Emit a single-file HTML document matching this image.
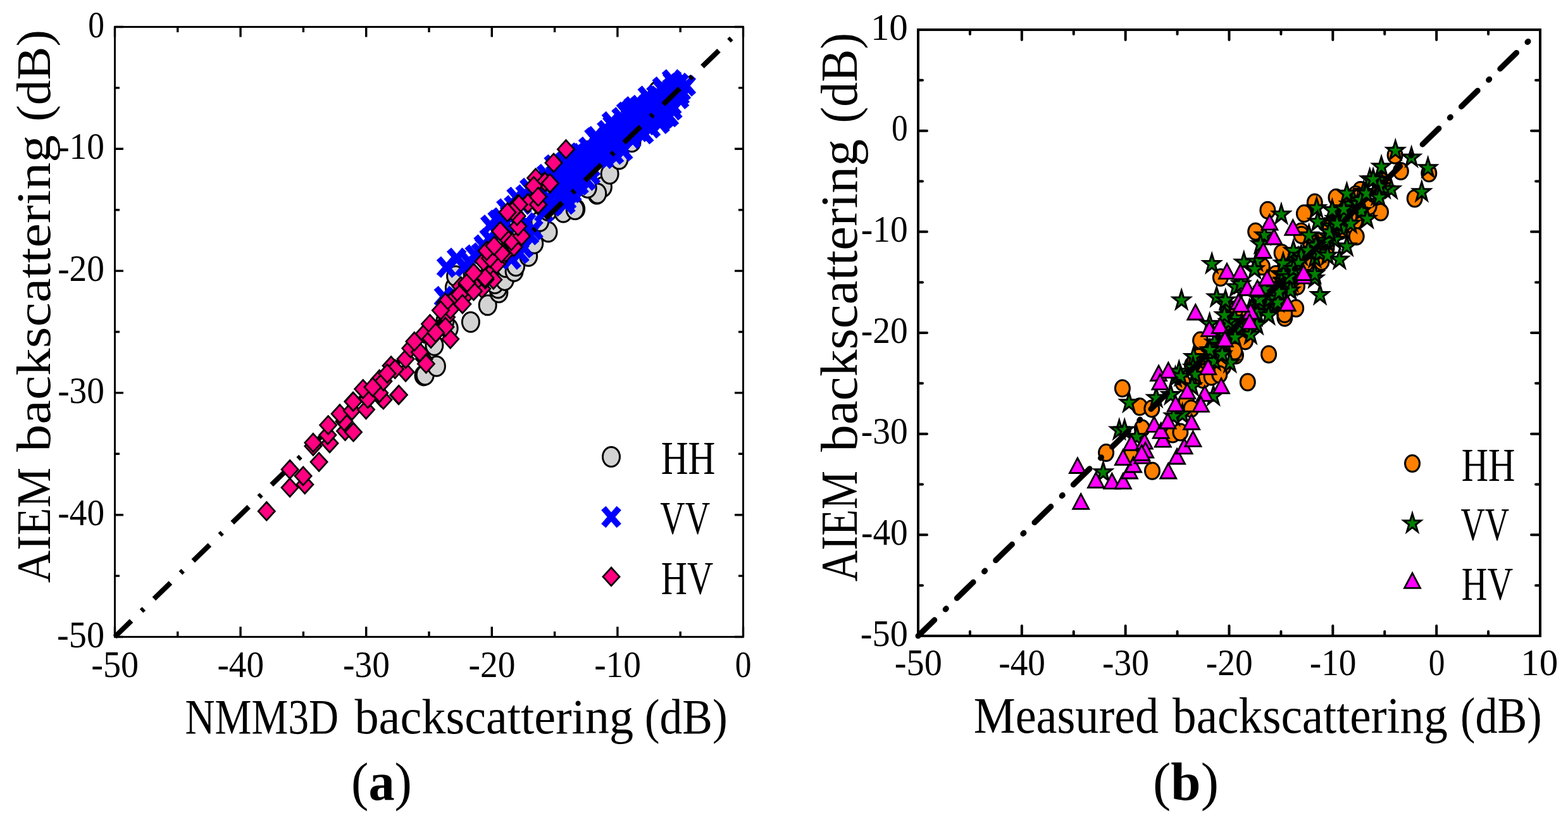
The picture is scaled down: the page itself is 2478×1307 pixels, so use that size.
<!DOCTYPE html>
<html lang="en"><head><meta charset="utf-8"><title>AIEM backscattering comparison</title>
<style>html,body{margin:0;padding:0;background:#fff}body{width:2478px;height:1307px;overflow:hidden}svg{display:block}text{font-family:"Liberation Serif", "DejaVu Serif", serif;fill:#000}</style></head><body>
<svg width="2478" height="1307" viewBox="0 0 2478 1307">
<rect width="2478" height="1307" fill="#fff"/>
<defs>
<ellipse id="c1" rx="13.5" ry="15.5" fill="#d3d3d3" stroke="#000" stroke-width="3"/>
<path id="x1" d="M-12.2 -14.0L12.2 14.0M-12.2 14.0L12.2 -14.0" fill="none" stroke="#00f" stroke-width="9.6"/>
<path id="d1" d="M0 -14.4L13.1 0L0 14.4L-13.1 0Z" fill="#ff0080" stroke="#000" stroke-width="2.7" stroke-linejoin="miter"/>
<ellipse id="c2" rx="11.5" ry="13.0" fill="#ff8000" stroke="#000" stroke-width="3"/>
<polygon id="s2" points="0.00,-15.80 3.32,-4.99 13.79,-4.88 5.38,1.90 8.52,12.78 0.00,6.16 -8.52,12.78 -5.38,1.90 -13.79,-4.88 -3.32,-4.99" fill="#008000" stroke="#000" stroke-width="3.0" stroke-linejoin="miter"/>
<path id="t2" d="M0 -11.2L12.5 12.4L-12.5 12.4Z" fill="#f0f" stroke="#000" stroke-width="2.8" stroke-linejoin="miter"/>
</defs>
<g id="panel-a">
<g><use href="#c1" x="669.5" y="593.4"/><use href="#c1" x="671.8" y="592.6"/><use href="#c1" x="689.9" y="578.8"/><use href="#c1" x="686.4" y="545.8"/><use href="#c1" x="709.7" y="519.0"/><use href="#c1" x="703.3" y="507.5"/><use href="#c1" x="743.9" y="509.0"/><use href="#c1" x="770.7" y="482.3"/><use href="#c1" x="788.4" y="462.2"/><use href="#c1" x="787.1" y="455.3"/><use href="#c1" x="801.4" y="435.4"/><use href="#c1" x="717.8" y="454.6"/><use href="#c1" x="720.1" y="436.2"/><use href="#c1" x="782.2" y="448.1"/><use href="#c1" x="797.7" y="442.9"/><use href="#c1" x="799.0" y="422.2"/><use href="#c1" x="812.6" y="428.7"/><use href="#c1" x="815.2" y="420.3"/><use href="#c1" x="835.2" y="404.8"/><use href="#c1" x="844.3" y="384.7"/><use href="#c1" x="866.5" y="366.6"/><use href="#c1" x="798.4" y="358.9"/><use href="#c1" x="853.3" y="349.8"/><use href="#c1" x="866.3" y="333.0"/><use href="#c1" x="890.2" y="335.6"/><use href="#c1" x="910.2" y="330.4"/><use href="#c1" x="943.2" y="306.5"/><use href="#c1" x="952.9" y="295.5"/><use href="#c1" x="963.6" y="274.7"/><use href="#c1" x="944.2" y="305.8"/><use href="#c1" x="978.5" y="251.5"/><use href="#c1" x="908.7" y="331.0"/><use href="#c1" x="928.7" y="296.7"/><use href="#c1" x="998.5" y="224.3"/><use href="#c1" x="964.4" y="210.2"/><use href="#c1" x="929.5" y="238.7"/><use href="#c1" x="1038.9" y="144.6"/><use href="#c1" x="1012.9" y="170.3"/></g>
<g><use href="#x1" x="742.1" y="414.5"/><use href="#x1" x="760.2" y="400.2"/><use href="#x1" x="786.1" y="348.5"/><use href="#x1" x="792.6" y="344.6"/><use href="#x1" x="812.0" y="325.3"/><use href="#x1" x="830.1" y="308.4"/><use href="#x1" x="786.1" y="364.0"/><use href="#x1" x="773.2" y="377.0"/><use href="#x1" x="778.4" y="382.1"/><use href="#x1" x="734.4" y="420.9"/><use href="#x1" x="796.5" y="356.3"/><use href="#x1" x="764.1" y="387.3"/><use href="#x1" x="805.5" y="339.5"/><use href="#x1" x="824.9" y="322.7"/><use href="#x1" x="845.6" y="309.7"/><use href="#x1" x="857.2" y="303.3"/><use href="#x1" x="831.4" y="352.4"/><use href="#x1" x="836.5" y="370.5"/><use href="#x1" x="827.5" y="391.2"/><use href="#x1" x="808.1" y="409.3"/><use href="#x1" x="866.3" y="312.3"/><use href="#x1" x="872.7" y="325.3"/><use href="#x1" x="859.8" y="335.6"/><use href="#x1" x="1062.9" y="129.7"/><use href="#x1" x="1073.3" y="132.0"/><use href="#x1" x="1048.1" y="142.7"/><use href="#x1" x="1062.1" y="139.3"/><use href="#x1" x="1076.4" y="143.7"/><use href="#x1" x="1037.0" y="151.0"/><use href="#x1" x="1045.1" y="155.7"/><use href="#x1" x="1061.2" y="150.9"/><use href="#x1" x="1074.3" y="150.2"/><use href="#x1" x="1011.6" y="166.9"/><use href="#x1" x="1024.7" y="163.2"/><use href="#x1" x="1033.3" y="162.4"/><use href="#x1" x="1046.2" y="162.2"/><use href="#x1" x="1061.7" y="166.4"/><use href="#x1" x="995.1" y="175.3"/><use href="#x1" x="1006.8" y="172.1"/><use href="#x1" x="1024.8" y="175.9"/><use href="#x1" x="1035.2" y="177.6"/><use href="#x1" x="1047.6" y="177.2"/><use href="#x1" x="1063.0" y="173.3"/><use href="#x1" x="982.0" y="186.1"/><use href="#x1" x="996.3" y="187.7"/><use href="#x1" x="1006.6" y="186.4"/><use href="#x1" x="1020.5" y="184.7"/><use href="#x1" x="1036.6" y="186.0"/><use href="#x1" x="1048.4" y="187.6"/><use href="#x1" x="967.9" y="198.3"/><use href="#x1" x="984.0" y="194.9"/><use href="#x1" x="998.3" y="199.8"/><use href="#x1" x="1007.3" y="199.7"/><use href="#x1" x="1021.4" y="196.9"/><use href="#x1" x="958.9" y="206.6"/><use href="#x1" x="967.9" y="210.5"/><use href="#x1" x="983.4" y="209.2"/><use href="#x1" x="993.5" y="205.3"/><use href="#x1" x="1010.1" y="207.6"/><use href="#x1" x="942.5" y="216.1"/><use href="#x1" x="958.4" y="219.3"/><use href="#x1" x="968.1" y="218.8"/><use href="#x1" x="985.6" y="216.6"/><use href="#x1" x="997.9" y="218.6"/><use href="#x1" x="929.6" y="232.8"/><use href="#x1" x="946.8" y="230.3"/><use href="#x1" x="955.5" y="232.8"/><use href="#x1" x="968.9" y="229.1"/><use href="#x1" x="980.0" y="229.3"/><use href="#x1" x="919.4" y="242.9"/><use href="#x1" x="928.8" y="241.1"/><use href="#x1" x="944.0" y="243.0"/><use href="#x1" x="958.8" y="243.0"/><use href="#x1" x="970.5" y="243.4"/><use href="#x1" x="893.4" y="254.9"/><use href="#x1" x="905.0" y="251.3"/><use href="#x1" x="917.9" y="253.1"/><use href="#x1" x="932.6" y="252.7"/><use href="#x1" x="944.9" y="249.5"/><use href="#x1" x="877.3" y="263.5"/><use href="#x1" x="889.9" y="263.1"/><use href="#x1" x="907.7" y="260.8"/><use href="#x1" x="919.9" y="263.1"/><use href="#x1" x="933.3" y="264.2"/><use href="#x1" x="863.6" y="276.0"/><use href="#x1" x="877.7" y="276.6"/><use href="#x1" x="890.5" y="272.6"/><use href="#x1" x="905.1" y="272.1"/><use href="#x1" x="917.2" y="276.7"/><use href="#x1" x="933.3" y="275.9"/><use href="#x1" x="866.0" y="283.3"/><use href="#x1" x="881.4" y="288.0"/><use href="#x1" x="891.7" y="282.8"/><use href="#x1" x="903.2" y="282.5"/><use href="#x1" x="917.1" y="282.5"/><use href="#x1" x="866.5" y="293.0"/><use href="#x1" x="878.3" y="298.6"/><use href="#x1" x="894.0" y="298.1"/><use href="#x1" x="907.8" y="294.5"/><use href="#x1" x="877.4" y="305.5"/><use href="#x1" x="894.8" y="308.2"/><use href="#x1" x="903.8" y="304.1"/><use href="#x1" x="889.4" y="317.4"/><use href="#x1" x="701.4" y="468.8"/><use href="#x1" x="705.6" y="422.1"/><use href="#x1" x="721.7" y="408.5"/><use href="#x1" x="750.2" y="403.4"/><use href="#x1" x="765.7" y="390.4"/><use href="#x1" x="774.7" y="356.2"/><use href="#x1" x="799.9" y="330.3"/><use href="#x1" x="816.1" y="312.2"/><use href="#x1" x="836.8" y="298.0"/><use href="#x1" x="821.0" y="400.2"/><use href="#x1" x="843.0" y="362.8"/><use href="#x1" x="893.7" y="322.2"/><use href="#x1" x="1061.6" y="126.3"/><use href="#x1" x="1046.3" y="137.8"/><use href="#x1" x="1023.3" y="152.4"/><use href="#x1" x="1001.0" y="169.2"/><use href="#x1" x="989.5" y="177.7"/><use href="#x1" x="966.4" y="193.0"/><use href="#x1" x="939.0" y="218.2"/><use href="#x1" x="915.9" y="242.1"/><use href="#x1" x="875.2" y="260.9"/><use href="#x1" x="1084.3" y="135.5"/><use href="#x1" x="1073.6" y="155.6"/><use href="#x1" x="1057.4" y="184.0"/><use href="#x1" x="1043.0" y="194.8"/><use href="#x1" x="1028.5" y="201.8"/><use href="#x1" x="1017.7" y="211.2"/><use href="#x1" x="984.8" y="238.1"/><use href="#x1" x="954.6" y="250.2"/><use href="#x1" x="926.6" y="284.7"/><use href="#x1" x="915.0" y="291.8"/><use href="#x1" x="895.6" y="315.7"/><use href="#x1" x="893.7" y="322.2"/></g>
<path d="M181.50 1006.50L1162.58 54.07" fill="none" stroke="#000" stroke-width="8.0" stroke-linecap="butt" stroke-dasharray="36.3 22.35 5.2 22.42"/>
<g><use href="#d1" x="773.3" y="427.8"/><use href="#d1" x="761.7" y="456.3"/><use href="#d1" x="751.4" y="442.1"/><use href="#d1" x="716.5" y="473.1"/><use href="#d1" x="738.4" y="464.0"/><use href="#d1" x="787.6" y="413.6"/><use href="#d1" x="799.2" y="399.4"/><use href="#d1" x="728.1" y="452.4"/><use href="#d1" x="708.7" y="483.4"/><use href="#d1" x="779.8" y="442.1"/><use href="#d1" x="812.1" y="390.3"/><use href="#d1" x="766.9" y="412.3"/><use href="#d1" x="421.3" y="807.9"/><use href="#d1" x="458.1" y="770.6"/><use href="#d1" x="481.8" y="765.7"/><use href="#d1" x="479.1" y="752.3"/><use href="#d1" x="458.1" y="741.9"/><use href="#d1" x="504.1" y="730.1"/><use href="#d1" x="494.9" y="705.1"/><use href="#d1" x="494.9" y="699.7"/><use href="#d1" x="521.0" y="700.5"/><use href="#d1" x="517.9" y="687.5"/><use href="#d1" x="545.5" y="681.3"/><use href="#d1" x="558.5" y="682.9"/><use href="#d1" x="518.7" y="671.8"/><use href="#d1" x="544.0" y="666.0"/><use href="#d1" x="537.1" y="654.0"/><use href="#d1" x="556.2" y="649.1"/><use href="#d1" x="578.5" y="647.3"/><use href="#d1" x="557.8" y="634.6"/><use href="#d1" x="582.3" y="629.2"/><use href="#d1" x="602.2" y="628.4"/><use href="#d1" x="629.8" y="624.3"/><use href="#d1" x="558.3" y="634.8"/><use href="#d1" x="581.3" y="630.2"/><use href="#d1" x="605.9" y="631.7"/><use href="#d1" x="573.7" y="614.8"/><use href="#d1" x="599.7" y="621.0"/><use href="#d1" x="630.4" y="624.0"/><use href="#d1" x="599.7" y="599.5"/><use href="#d1" x="605.9" y="602.6"/><use href="#d1" x="618.1" y="578.0"/><use href="#d1" x="641.1" y="588.0"/><use href="#d1" x="624.3" y="583.4"/><use href="#d1" x="641.1" y="567.3"/><use href="#d1" x="648.8" y="550.4"/><use href="#d1" x="670.3" y="567.3"/><use href="#d1" x="673.4" y="574.9"/><use href="#d1" x="663.4" y="556.5"/><use href="#d1" x="670.3" y="527.4"/><use href="#d1" x="681.0" y="535.1"/><use href="#d1" x="711.7" y="535.8"/><use href="#d1" x="679.5" y="512.1"/><use href="#d1" x="705.6" y="501.3"/><use href="#d1" x="704.0" y="516.7"/><use href="#d1" x="711.7" y="489.1"/><use href="#d1" x="704.0" y="478.3"/><use href="#d1" x="726.3" y="465.3"/><use href="#d1" x="730.9" y="480.6"/><use href="#d1" x="737.8" y="449.2"/><use href="#d1" x="748.5" y="459.9"/><use href="#d1" x="756.2" y="440.0"/><use href="#d1" x="766.9" y="441.5"/><use href="#d1" x="688.7" y="525.9"/><use href="#d1" x="589.0" y="611.8"/><use href="#d1" x="696.4" y="490.6"/><use href="#d1" x="654.9" y="539.7"/><use href="#d1" x="612.0" y="590.3"/><use href="#d1" x="738.3" y="446.8"/><use href="#d1" x="766.7" y="439.0"/><use href="#d1" x="748.6" y="431.3"/><use href="#d1" x="784.8" y="417.7"/><use href="#d1" x="764.1" y="413.2"/><use href="#d1" x="774.5" y="408.0"/><use href="#d1" x="769.3" y="396.4"/><use href="#d1" x="792.6" y="400.2"/><use href="#d1" x="780.9" y="388.6"/><use href="#d1" x="802.9" y="378.3"/><use href="#d1" x="808.1" y="380.9"/><use href="#d1" x="795.2" y="370.5"/><use href="#d1" x="790.6" y="365.3"/><use href="#d1" x="824.3" y="373.1"/><use href="#d1" x="818.7" y="357.6"/><use href="#d1" x="817.1" y="341.4"/><use href="#d1" x="809.4" y="333.0"/><use href="#d1" x="818.4" y="322.7"/><use href="#d1" x="850.1" y="324.0"/><use href="#d1" x="834.6" y="320.7"/><use href="#d1" x="849.5" y="311.0"/><use href="#d1" x="868.9" y="290.3"/><use href="#d1" x="844.3" y="293.6"/><use href="#d1" x="860.5" y="287.1"/><use href="#d1" x="894.4" y="235.9"/><use href="#d1" x="875.0" y="257.3"/><use href="#d1" x="846.6" y="281.2"/><use href="#d1" x="861.2" y="287.4"/><use href="#d1" x="869.2" y="289.6"/><use href="#d1" x="843.4" y="294.1"/><use href="#d1" x="834.3" y="321.3"/><use href="#d1" x="850.5" y="323.2"/><use href="#d1" x="820.1" y="323.2"/><use href="#d1" x="850.5" y="310.9"/><use href="#d1" x="809.7" y="334.2"/><use href="#d1" x="802.0" y="335.5"/></g>
<path d="M181.50 1006.50v-16.00M181.50 42.50v16.00M181.50 1006.50h13.50M1174.50 1006.50h-13.50M280.80 1006.50v-8.50M280.80 42.50v8.50M181.50 910.10h7.50M1174.50 910.10h-7.50M380.10 1006.50v-16.00M380.10 42.50v16.00M181.50 813.70h13.50M1174.50 813.70h-13.50M479.40 1006.50v-8.50M479.40 42.50v8.50M181.50 717.30h7.50M1174.50 717.30h-7.50M578.70 1006.50v-16.00M578.70 42.50v16.00M181.50 620.90h13.50M1174.50 620.90h-13.50M678.00 1006.50v-8.50M678.00 42.50v8.50M181.50 524.50h7.50M1174.50 524.50h-7.50M777.30 1006.50v-16.00M777.30 42.50v16.00M181.50 428.10h13.50M1174.50 428.10h-13.50M876.60 1006.50v-8.50M876.60 42.50v8.50M181.50 331.70h7.50M1174.50 331.70h-7.50M975.90 1006.50v-16.00M975.90 42.50v16.00M181.50 235.30h13.50M1174.50 235.30h-13.50M1075.20 1006.50v-8.50M1075.20 42.50v8.50M181.50 138.90h7.50M1174.50 138.90h-7.50M1174.50 1006.50v-16.00M1174.50 42.50v16.00M181.50 42.50h13.50M1174.50 42.50h-13.50" fill="none" stroke="#000" stroke-width="3.4" stroke-linecap="butt"/>
<rect x="181.5" y="42.5" width="993.0" height="964.0" fill="none" stroke="#000" stroke-width="3"/>
<text y="1069.50" font-size="60"><tspan x="144.21" textLength="74.97" lengthAdjust="spacingAndGlyphs">-50</tspan></text>
<text y="1022.50" font-size="60"><tspan x="90.11" textLength="74.97" lengthAdjust="spacingAndGlyphs">-50</tspan></text>
<text y="1069.50" font-size="60"><tspan x="343.44" textLength="73.72" lengthAdjust="spacingAndGlyphs">-40</tspan></text>
<text y="829.70" font-size="60"><tspan x="91.34" textLength="73.72" lengthAdjust="spacingAndGlyphs">-40</tspan></text>
<text y="1069.50" font-size="60"><tspan x="541.94" textLength="73.93" lengthAdjust="spacingAndGlyphs">-30</tspan></text>
<text y="636.90" font-size="60"><tspan x="91.14" textLength="73.93" lengthAdjust="spacingAndGlyphs">-30</tspan></text>
<text y="1069.50" font-size="60"><tspan x="740.54" textLength="73.93" lengthAdjust="spacingAndGlyphs">-20</tspan></text>
<text y="444.10" font-size="60"><tspan x="91.14" textLength="73.93" lengthAdjust="spacingAndGlyphs">-20</tspan></text>
<text y="1069.50" font-size="60"><tspan x="939.14" textLength="73.93" lengthAdjust="spacingAndGlyphs">-10</tspan></text>
<text y="251.30" font-size="60"><tspan x="91.14" textLength="73.93" lengthAdjust="spacingAndGlyphs">-10</tspan></text>
<text y="1069.50" font-size="60"><tspan x="1161.86" textLength="25.68" lengthAdjust="spacingAndGlyphs">0</tspan></text>
<text y="58.50" font-size="60"><tspan x="139.26" textLength="25.68" lengthAdjust="spacingAndGlyphs">0</tspan></text>
<text y="1158.90" font-size="77.5"><tspan x="292.60" textLength="242.40" lengthAdjust="spacingAndGlyphs">NMM3D</tspan> <tspan x="560.40" textLength="440.66" lengthAdjust="spacingAndGlyphs">backscattering</tspan> <tspan x="1018.74" textLength="131.03" lengthAdjust="spacingAndGlyphs">(dB)</tspan></text>
<text transform="translate(79.00 0) rotate(-90)" font-size="76.5"><tspan x="-921.20" textLength="182.28" lengthAdjust="spacingAndGlyphs">AIEM</tspan> <tspan x="-713.90" textLength="500.47" lengthAdjust="spacingAndGlyphs">backscattering</tspan> <tspan x="-192.37" textLength="145.12" lengthAdjust="spacingAndGlyphs">(dB)</tspan></text>
<use href="#c1" x="966.0" y="722.0"/>
<use href="#x1" x="966.0" y="817.0"/>
<use href="#d1" x="966.0" y="911.4"/>
<text y="749.00" font-size="75"><tspan x="1044.71" textLength="85.70" lengthAdjust="spacingAndGlyphs">HH</tspan></text>
<text y="844.00" font-size="75"><tspan x="1043.25" textLength="78.86" lengthAdjust="spacingAndGlyphs">VV</tspan></text>
<text y="938.70" font-size="75"><tspan x="1044.76" textLength="82.26" lengthAdjust="spacingAndGlyphs">HV</tspan></text>
<text transform="translate(603.00 1264.00) scale(0.9800 1.0000)" font-size="84" text-anchor="middle">(<tspan font-weight="bold">a</tspan>)</text>
</g>
<g id="panel-b">
<g><use href="#c2" x="2102.3" y="360.3"/><use href="#c2" x="2096.5" y="392.1"/><use href="#c2" x="2141.2" y="349.9"/><use href="#c2" x="2023.8" y="443.3"/><use href="#c2" x="2031.9" y="436.0"/><use href="#c2" x="2084.8" y="381.6"/><use href="#c2" x="2183.7" y="286.4"/><use href="#c2" x="2005.9" y="477.1"/><use href="#c2" x="2132.5" y="342.7"/><use href="#c2" x="2136.9" y="314.2"/><use href="#c2" x="2070.8" y="383.0"/><use href="#c2" x="2030.6" y="422.4"/><use href="#c2" x="2114.2" y="357.2"/><use href="#c2" x="2127.1" y="361.8"/><use href="#c2" x="2119.7" y="340.5"/><use href="#c2" x="2016.2" y="433.4"/><use href="#c2" x="2125.1" y="333.2"/><use href="#c2" x="2063.9" y="416.1"/><use href="#c2" x="2118.0" y="365.1"/><use href="#c2" x="2156.1" y="332.4"/><use href="#c2" x="2179.8" y="301.9"/><use href="#c2" x="2083.5" y="396.3"/><use href="#c2" x="1911.1" y="561.0"/><use href="#c2" x="1972.1" y="510.7"/><use href="#c2" x="1941.3" y="519.4"/><use href="#c2" x="1970.1" y="504.8"/><use href="#c2" x="1894.9" y="587.6"/><use href="#c2" x="1989.3" y="483.3"/><use href="#c2" x="1909.1" y="573.4"/><use href="#c2" x="1899.7" y="554.5"/><use href="#c2" x="1937.0" y="539.6"/><use href="#c2" x="1869.2" y="604.3"/><use href="#c2" x="1960.2" y="497.6"/><use href="#c2" x="1958.2" y="497.5"/><use href="#c2" x="1748.1" y="715.5"/><use href="#c2" x="1821.0" y="744.3"/><use href="#c2" x="1804.9" y="676.9"/><use href="#c2" x="1787.2" y="719.8"/><use href="#c2" x="1853.2" y="686.1"/><use href="#c2" x="1865.4" y="683.0"/><use href="#c2" x="1773.9" y="613.7"/><use href="#c2" x="1971.8" y="604.0"/><use href="#c2" x="2005.1" y="560.0"/><use href="#c2" x="1801.1" y="642.8"/><use href="#c2" x="1820.3" y="645.9"/><use href="#c2" x="1884.0" y="576.9"/><use href="#c2" x="1894.7" y="564.6"/><use href="#c2" x="1900.8" y="599.9"/><use href="#c2" x="1914.6" y="595.3"/><use href="#c2" x="1874.8" y="633.6"/><use href="#c2" x="1882.4" y="645.9"/><use href="#c2" x="1953.0" y="561.5"/><use href="#c2" x="1933.0" y="579.9"/><use href="#c2" x="2030.4" y="502.1"/><use href="#c2" x="2048.2" y="487.2"/><use href="#c2" x="1897.1" y="538.1"/><use href="#c2" x="1968.0" y="538.9"/><use href="#c2" x="1951.1" y="555.0"/><use href="#c2" x="1928.9" y="438.5"/><use href="#c2" x="1887.5" y="571.9"/><use href="#c2" x="1927.3" y="591.8"/><use href="#c2" x="1951.9" y="490.6"/><use href="#c2" x="2008.6" y="484.5"/><use href="#c2" x="2050.0" y="452.3"/><use href="#c2" x="2003.4" y="332.2"/><use href="#c2" x="1984.2" y="365.9"/><use href="#c2" x="2060.9" y="337.6"/><use href="#c2" x="2077.8" y="319.9"/><use href="#c2" x="2111.5" y="312.3"/><use href="#c2" x="2182.0" y="335.3"/><use href="#c2" x="2143.7" y="373.6"/><use href="#c2" x="2235.7" y="313.8"/><use href="#c2" x="2025.6" y="399.7"/><use href="#c2" x="2088.5" y="413.5"/><use href="#c2" x="2030.2" y="496.3"/><use href="#c2" x="1994.9" y="421.1"/><use href="#c2" x="2056.3" y="365.9"/><use href="#c2" x="2163.6" y="326.1"/><use href="#c2" x="2056.6" y="371.4"/><use href="#c2" x="2213.8" y="270.6"/><use href="#c2" x="2204.6" y="245.3"/><use href="#c2" x="2258.3" y="273.7"/><use href="#c2" x="2187.7" y="292.1"/><use href="#c2" x="2150.1" y="300.5"/><use href="#c2" x="2142.5" y="307.4"/></g>
<g><use href="#s2" x="2081.9" y="395.2"/><use href="#s2" x="2083.4" y="389.6"/><use href="#s2" x="2028.2" y="443.7"/><use href="#s2" x="2138.8" y="316.5"/><use href="#s2" x="2016.2" y="468.4"/><use href="#s2" x="2010.3" y="483.0"/><use href="#s2" x="2122.7" y="353.2"/><use href="#s2" x="1995.2" y="473.2"/><use href="#s2" x="2023.5" y="433.4"/><use href="#s2" x="2081.6" y="390.0"/><use href="#s2" x="2096.7" y="381.6"/><use href="#s2" x="2121.0" y="348.9"/><use href="#s2" x="2198.5" y="299.4"/><use href="#s2" x="2126.8" y="337.0"/><use href="#s2" x="2039.2" y="415.3"/><use href="#s2" x="2077.9" y="408.0"/><use href="#s2" x="2187.5" y="298.8"/><use href="#s2" x="2041.7" y="446.4"/><use href="#s2" x="2182.2" y="285.5"/><use href="#s2" x="2121.4" y="362.0"/><use href="#s2" x="2005.2" y="460.7"/><use href="#s2" x="2132.4" y="323.3"/><use href="#s2" x="2002.0" y="451.3"/><use href="#s2" x="2027.9" y="445.0"/><use href="#s2" x="2034.1" y="444.2"/><use href="#s2" x="2109.9" y="346.2"/><use href="#s2" x="2028.5" y="435.3"/><use href="#s2" x="2145.4" y="322.4"/><use href="#s2" x="2030.8" y="437.6"/><use href="#s2" x="2109.2" y="349.7"/><use href="#s2" x="2028.4" y="433.8"/><use href="#s2" x="2051.9" y="408.2"/><use href="#s2" x="2011.2" y="461.0"/><use href="#s2" x="2107.1" y="359.9"/><use href="#s2" x="2179.9" y="294.4"/><use href="#s2" x="2155.2" y="303.3"/><use href="#s2" x="2177.1" y="309.2"/><use href="#s2" x="2034.1" y="449.4"/><use href="#s2" x="2040.0" y="452.2"/><use href="#s2" x="2108.6" y="358.4"/><use href="#s2" x="2009.3" y="478.8"/><use href="#s2" x="2124.9" y="339.9"/><use href="#s2" x="2104.5" y="357.5"/><use href="#s2" x="2124.0" y="329.4"/><use href="#s2" x="2109.2" y="379.0"/><use href="#s2" x="2055.8" y="431.4"/><use href="#s2" x="1989.9" y="469.8"/><use href="#s2" x="1996.5" y="458.9"/><use href="#s2" x="1929.7" y="526.2"/><use href="#s2" x="1985.0" y="500.4"/><use href="#s2" x="1952.5" y="516.7"/><use href="#s2" x="1857.5" y="596.4"/><use href="#s2" x="1959.8" y="520.6"/><use href="#s2" x="1943.7" y="525.7"/><use href="#s2" x="1910.3" y="570.2"/><use href="#s2" x="1935.9" y="542.1"/><use href="#s2" x="1960.4" y="516.6"/><use href="#s2" x="1978.2" y="487.8"/><use href="#s2" x="1984.5" y="496.0"/><use href="#s2" x="1970.0" y="510.9"/><use href="#s2" x="1940.6" y="524.7"/><use href="#s2" x="1933.7" y="522.4"/><use href="#s2" x="1996.8" y="486.2"/><use href="#s2" x="1915.2" y="560.3"/><use href="#s2" x="1923.7" y="552.3"/><use href="#s2" x="1951.5" y="503.4"/><use href="#s2" x="1919.3" y="541.4"/><use href="#s2" x="1927.6" y="546.6"/><use href="#s2" x="1886.4" y="564.4"/><use href="#s2" x="1944.8" y="512.6"/><use href="#s2" x="1981.8" y="492.3"/><use href="#s2" x="1974.7" y="490.3"/><use href="#s2" x="1885.5" y="581.2"/><use href="#s2" x="1986.4" y="494.2"/><use href="#s2" x="1743.5" y="746.6"/><use href="#s2" x="1768.8" y="679.9"/><use href="#s2" x="1777.2" y="679.9"/><use href="#s2" x="1796.4" y="690.7"/><use href="#s2" x="1784.3" y="636.7"/><use href="#s2" x="1827.2" y="629.0"/><use href="#s2" x="1850.2" y="624.4"/><use href="#s2" x="1863.3" y="587.6"/><use href="#s2" x="1888.6" y="592.2"/><use href="#s2" x="1943.8" y="573.8"/><use href="#s2" x="1919.2" y="570.7"/><use href="#s2" x="1917.7" y="625.9"/><use href="#s2" x="1868.6" y="655.1"/><use href="#s2" x="1854.8" y="658.1"/><use href="#s2" x="1884.0" y="610.6"/><use href="#s2" x="1931.5" y="560.0"/><use href="#s2" x="1867.2" y="474.8"/><use href="#s2" x="2086.1" y="466.4"/><use href="#s2" x="1922.7" y="469.9"/><use href="#s2" x="1936.5" y="481.4"/><use href="#s2" x="2004.8" y="498.3"/><use href="#s2" x="1976.4" y="528.9"/><use href="#s2" x="1951.9" y="533.5"/><use href="#s2" x="1912.0" y="553.5"/><use href="#s2" x="1866.0" y="594.9"/><use href="#s2" x="2039.3" y="459.2"/><use href="#s2" x="2007.1" y="472.2"/><use href="#s2" x="1990.2" y="473.7"/><use href="#s2" x="2019.4" y="478.3"/><use href="#s2" x="1953.4" y="453.8"/><use href="#s2" x="1961.1" y="449.2"/><use href="#s2" x="1911.6" y="512.1"/><use href="#s2" x="1941.1" y="509.0"/><use href="#s2" x="1935.0" y="498.3"/><use href="#s2" x="1986.4" y="513.6"/><use href="#s2" x="2077.6" y="440.0"/><use href="#s2" x="1915.2" y="417.3"/><use href="#s2" x="2024.9" y="339.1"/><use href="#s2" x="2116.9" y="410.4"/><use href="#s2" x="2128.4" y="389.7"/><use href="#s2" x="1965.8" y="415.0"/><use href="#s2" x="1985.7" y="413.5"/><use href="#s2" x="1936.7" y="474.8"/><use href="#s2" x="1998.0" y="372.1"/><use href="#s2" x="2044.0" y="396.6"/><use href="#s2" x="2027.9" y="416.5"/><use href="#s2" x="2080.8" y="329.1"/><use href="#s2" x="2082.4" y="350.6"/><use href="#s2" x="2068.6" y="372.1"/><use href="#s2" x="2105.4" y="332.2"/><use href="#s2" x="2123.8" y="330.7"/><use href="#s2" x="2128.4" y="306.1"/><use href="#s2" x="2113.0" y="353.7"/><use href="#s2" x="2134.5" y="353.7"/><use href="#s2" x="2151.4" y="333.7"/><use href="#s2" x="2160.6" y="346.0"/><use href="#s2" x="2179.7" y="312.3"/><use href="#s2" x="2099.2" y="373.6"/><use href="#s2" x="2085.4" y="399.7"/><use href="#s2" x="2056.3" y="404.3"/><use href="#s2" x="2037.9" y="438.0"/><use href="#s2" x="2077.8" y="433.4"/><use href="#s2" x="1982.7" y="425.7"/><use href="#s2" x="1991.9" y="385.9"/><use href="#s2" x="2094.9" y="380.6"/><use href="#s2" x="2079.6" y="388.3"/><use href="#s2" x="2067.3" y="395.9"/><use href="#s2" x="2052.0" y="415.9"/><use href="#s2" x="2044.3" y="425.1"/><use href="#s2" x="2021.3" y="461.9"/><use href="#s2" x="1998.3" y="457.3"/><use href="#s2" x="2205.3" y="238.4"/><use href="#s2" x="2230.6" y="249.1"/><use href="#s2" x="2256.7" y="265.7"/><use href="#s2" x="2183.1" y="263.7"/><use href="#s2" x="2164.7" y="283.6"/><use href="#s2" x="2170.1" y="283.6"/><use href="#s2" x="2246.8" y="303.6"/><use href="#s2" x="2150.1" y="316.6"/><use href="#s2" x="2159.3" y="305.9"/><use href="#s2" x="2101.1" y="367.2"/><use href="#s2" x="2098.0" y="404.0"/></g>
<g><use href="#t2" x="1702.9" y="735.1"/></g>
<path d="M1451.00 1005.00L2429.09 51.79" fill="none" stroke="#000" stroke-width="9.0" stroke-linecap="round" stroke-dasharray="36.0 24.3 1.5 23.82"/>
<g><use href="#t2" x="1708.2" y="791.9"/><use href="#t2" x="1732.0" y="758.1"/><use href="#t2" x="1757.3" y="759.7"/><use href="#t2" x="1774.9" y="759.7"/><use href="#t2" x="1784.9" y="743.6"/><use href="#t2" x="1791.1" y="733.6"/><use href="#t2" x="1774.9" y="722.1"/><use href="#t2" x="1788.0" y="699.1"/><use href="#t2" x="1808.7" y="696.8"/><use href="#t2" x="1810.2" y="710.6"/><use href="#t2" x="1805.6" y="719.8"/><use href="#t2" x="1824.0" y="670.0"/><use href="#t2" x="1837.8" y="693.7"/><use href="#t2" x="1834.8" y="679.9"/><use href="#t2" x="1846.3" y="743.6"/><use href="#t2" x="1860.1" y="720.6"/><use href="#t2" x="1871.6" y="704.5"/><use href="#t2" x="1885.4" y="693.0"/><use href="#t2" x="1883.1" y="666.1"/><use href="#t2" x="1845.5" y="664.6"/><use href="#t2" x="1831.1" y="589.1"/><use href="#t2" x="1846.4" y="584.5"/><use href="#t2" x="1833.4" y="602.9"/><use href="#t2" x="1909.3" y="579.2"/><use href="#t2" x="1930.0" y="609.1"/><use href="#t2" x="1876.3" y="617.5"/><use href="#t2" x="1903.9" y="621.3"/><use href="#t2" x="1857.9" y="637.4"/><use href="#t2" x="1897.8" y="638.2"/><use href="#t2" x="1804.2" y="714.9"/><use href="#t2" x="1889.3" y="492.6"/><use href="#t2" x="1971.1" y="454.1"/><use href="#t2" x="1987.2" y="454.6"/><use href="#t2" x="2002.5" y="438.5"/><use href="#t2" x="1957.2" y="476.0"/><use href="#t2" x="1976.4" y="491.4"/><use href="#t2" x="1974.9" y="507.5"/><use href="#t2" x="2034.7" y="478.6"/><use href="#t2" x="1911.2" y="519.0"/><use href="#t2" x="1928.1" y="513.9"/><use href="#t2" x="1935.8" y="535.1"/><use href="#t2" x="2060.8" y="435.4"/><use href="#t2" x="2006.4" y="350.6"/><use href="#t2" x="2013.4" y="373.6"/><use href="#t2" x="2043.3" y="359.0"/><use href="#t2" x="1996.5" y="395.1"/><use href="#t2" x="1939.0" y="428.0"/><use href="#t2" x="1960.4" y="428.8"/><use href="#t2" x="2060.1" y="430.3"/><use href="#t2" x="1961.5" y="480.3"/></g>
<path d="M1451.00 1005.00v-16.00M1451.00 47.00v16.00M1451.00 1005.00h14.00M2434.00 1005.00h-14.00M1532.92 1005.00v-7.00M1532.92 47.00v7.00M1451.00 925.17h7.00M2434.00 925.17h-7.00M1614.83 1005.00v-16.00M1614.83 47.00v16.00M1451.00 845.33h14.00M2434.00 845.33h-14.00M1696.75 1005.00v-7.00M1696.75 47.00v7.00M1451.00 765.50h7.00M2434.00 765.50h-7.00M1778.67 1005.00v-16.00M1778.67 47.00v16.00M1451.00 685.67h14.00M2434.00 685.67h-14.00M1860.58 1005.00v-7.00M1860.58 47.00v7.00M1451.00 605.83h7.00M2434.00 605.83h-7.00M1942.50 1005.00v-16.00M1942.50 47.00v16.00M1451.00 526.00h14.00M2434.00 526.00h-14.00M2024.42 1005.00v-7.00M2024.42 47.00v7.00M1451.00 446.17h7.00M2434.00 446.17h-7.00M2106.33 1005.00v-16.00M2106.33 47.00v16.00M1451.00 366.33h14.00M2434.00 366.33h-14.00M2188.25 1005.00v-7.00M2188.25 47.00v7.00M1451.00 286.50h7.00M2434.00 286.50h-7.00M2270.17 1005.00v-16.00M2270.17 47.00v16.00M1451.00 206.67h14.00M2434.00 206.67h-14.00M2352.08 1005.00v-7.00M2352.08 47.00v7.00M1451.00 126.83h7.00M2434.00 126.83h-7.00M2434.00 1005.00v-16.00M2434.00 47.00v16.00M1451.00 47.00h14.00M2434.00 47.00h-14.00" fill="none" stroke="#000" stroke-width="4" stroke-linecap="round"/>
<rect x="1451.0" y="47.0" width="983.0" height="958.0" fill="none" stroke="#000" stroke-width="4"/>
<text y="1067.30" font-size="60"><tspan x="1413.81" textLength="74.97" lengthAdjust="spacingAndGlyphs">-50</tspan></text>
<text y="1020.50" font-size="60"><tspan x="1359.81" textLength="74.97" lengthAdjust="spacingAndGlyphs">-50</tspan></text>
<text y="1067.30" font-size="60"><tspan x="1578.27" textLength="73.72" lengthAdjust="spacingAndGlyphs">-40</tspan></text>
<text y="860.83" font-size="60"><tspan x="1361.04" textLength="73.72" lengthAdjust="spacingAndGlyphs">-40</tspan></text>
<text y="1067.30" font-size="60"><tspan x="1742.00" textLength="73.93" lengthAdjust="spacingAndGlyphs">-30</tspan></text>
<text y="701.17" font-size="60"><tspan x="1360.84" textLength="73.93" lengthAdjust="spacingAndGlyphs">-30</tspan></text>
<text y="1067.30" font-size="60"><tspan x="1905.84" textLength="73.93" lengthAdjust="spacingAndGlyphs">-20</tspan></text>
<text y="541.50" font-size="60"><tspan x="1360.84" textLength="73.93" lengthAdjust="spacingAndGlyphs">-20</tspan></text>
<text y="1067.30" font-size="60"><tspan x="2069.67" textLength="73.93" lengthAdjust="spacingAndGlyphs">-10</tspan></text>
<text y="381.83" font-size="60"><tspan x="1360.84" textLength="73.93" lengthAdjust="spacingAndGlyphs">-10</tspan></text>
<text y="1067.30" font-size="60"><tspan x="2257.63" textLength="25.68" lengthAdjust="spacingAndGlyphs">0</tspan></text>
<text y="222.17" font-size="60"><tspan x="1408.96" textLength="25.68" lengthAdjust="spacingAndGlyphs">0</tspan></text>
<text y="1067.30" font-size="60"><tspan x="2403.33" textLength="58.99" lengthAdjust="spacingAndGlyphs">10</tspan></text>
<text y="62.50" font-size="60"><tspan x="1375.88" textLength="58.99" lengthAdjust="spacingAndGlyphs">10</tspan></text>
<text y="1157.70" font-size="80"><tspan x="1538.72" textLength="292.42" lengthAdjust="spacingAndGlyphs">Measured</tspan> <tspan x="1853.00" textLength="434.85" lengthAdjust="spacingAndGlyphs">backscattering</tspan> <tspan x="2308.10" textLength="128.42" lengthAdjust="spacingAndGlyphs">(dB)</tspan></text>
<text transform="translate(1354.20 0) rotate(-90)" font-size="82"><tspan x="-919.20" textLength="175.30" lengthAdjust="spacingAndGlyphs">AIEM</tspan> <tspan x="-713.90" textLength="493.96" lengthAdjust="spacingAndGlyphs">backscattering</tspan> <tspan x="-194.82" textLength="142.97" lengthAdjust="spacingAndGlyphs">(dB)</tspan></text>
<use href="#c2" x="2232.0" y="732.5"/>
<use href="#s2" x="2232.0" y="827.5"/>
<use href="#t2" x="2232.0" y="916.9"/>
<text y="759.80" font-size="74.5"><tspan x="2309.73" textLength="84.57" lengthAdjust="spacingAndGlyphs">HH</tspan></text>
<text y="854.00" font-size="74.5"><tspan x="2308.47" textLength="76.65" lengthAdjust="spacingAndGlyphs">VV</tspan></text>
<text y="947.90" font-size="74.5"><tspan x="2309.77" textLength="81.25" lengthAdjust="spacingAndGlyphs">HV</tspan></text>
<text transform="translate(1874.00 1264.00) scale(1.0120 1.0000)" font-size="84" text-anchor="middle">(<tspan font-weight="bold">b</tspan>)</text>
</g>
</svg></body></html>
